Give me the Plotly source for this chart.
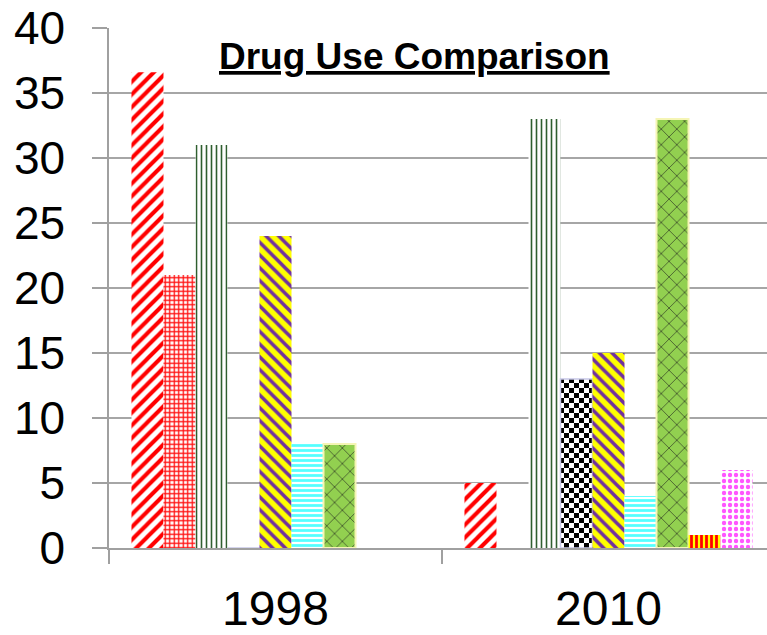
import plotly.graph_objects as go

# Survey years shown on the category axis
years = ["1998", "2010"]

# One series per substance category (values in percent)
series_names = ["Series 1", "Series 2", "Series 3", "Series 4", "Series 5",
                "Series 6", "Series 7", "Series 8", "Series 9"]
values_1998 = [36.6, 21, 31, 0, 24, 8, 8, 0, 0]
values_2010 = [5, 0, 33, 13, 15, 4, 33, 1, 6]

y_ticks = [0, 5, 10, 15, 20, 25, 30, 35, 40]

# Checkerboard tile for series 4 (size 10 -> 5 px squares)
checker = "M0,0H5V5H0Z M5,5H10V10H5Z"

styles = [
    dict(pattern=dict(shape="/", fgcolor="#FF0000", bgcolor="#FFFFFF", size=9, solidity=0.45),
         line=dict(width=0)),
    dict(pattern=dict(shape="+", fgcolor="#FF1010", bgcolor="#FFFFFF", size=4.5, solidity=0.5),
         line=dict(width=0)),
    dict(pattern=dict(shape="|", fgcolor="#2F5F2F", bgcolor="#FFFFFF", size=5, solidity=0.32),
         line=dict(width=0)),
    dict(pattern=dict(path=checker, fgcolor="#000000", bgcolor="#FFFFFF", size=10),
         line=dict(width=1.5, color="#C8C8E8")),
    dict(pattern=dict(shape="\\", fgcolor="#7030A0", bgcolor="#FFFF00", size=9, solidity=0.4),
         line=dict(width=0)),
    dict(pattern=dict(shape="-", fgcolor="#55FFFF", bgcolor="#FFFFFF", size=5, solidity=0.55),
         line=dict(width=0)),
    dict(pattern=dict(shape="x", fgcolor="#1A1A1A", bgcolor="#92D050", size=11, solidity=0.1),
         line=dict(width=2, color="#F5F5B5")),
    dict(pattern=dict(shape="|", fgcolor="#FF0000", bgcolor="#FFFF00", size=5, solidity=0.55),
         line=dict(width=0)),
    dict(pattern=dict(shape=".", fgcolor="#FF55FF", bgcolor="#FFFFFF", size=6, solidity=0.42),
         line=dict(width=0)),
]

fig = go.Figure()
for i, name in enumerate(series_names):
    st = styles[i]
    pattern = dict(st["pattern"], fgopacity=1, fillmode="replace")
    fig.add_trace(go.Bar(
        name=name,
        x=years,
        y=[values_1998[i], values_2010[i]],
        marker=dict(color=pattern["bgcolor"], opacity=1, pattern=pattern, line=st["line"]),
    ))

fig.add_annotation(
    text="<b><u>Drug Use Comparison</u></b>",
    xref="paper", yref="y", x=0.465, y=37.8,
    showarrow=False, xanchor="center", yanchor="middle",
    font=dict(family="Liberation Sans, Arial", size=37, color="#000000"),
)

fig.update_layout(
    width=767, height=635,
    margin=dict(l=109, r=0, t=28, b=82),
    paper_bgcolor="#FFFFFF", plot_bgcolor="#FFFFFF",
    barmode="group", bargap=0.135, bargroupgap=0,
    showlegend=False,
    font=dict(family="Liberation Sans, Arial", color="#000000"),
    xaxis=dict(
        type="category", range=[-0.5, 1.476],
        showline=True, linecolor="#A0A0A0", linewidth=1.5,
        ticks="outside", tickson="boundaries", ticklen=14, tickcolor="#A0A0A0", tickwidth=1.5,
        tickfont=dict(size=48), ticklabelstandoff=18,
        showgrid=False,
    ),
    yaxis=dict(
        range=[0, 40], tickvals=y_ticks,
        showline=True, linecolor="#A0A0A0", linewidth=1.5,
        ticks="outside", ticklen=15, tickcolor="#A0A0A0", tickwidth=1.5,
        tickfont=dict(size=46), ticklabelstandoff=18,
        showgrid=True, gridcolor="#A6A6A6", gridwidth=1.5,
        zeroline=False,
    ),
)

fig.write_html("out.html")
